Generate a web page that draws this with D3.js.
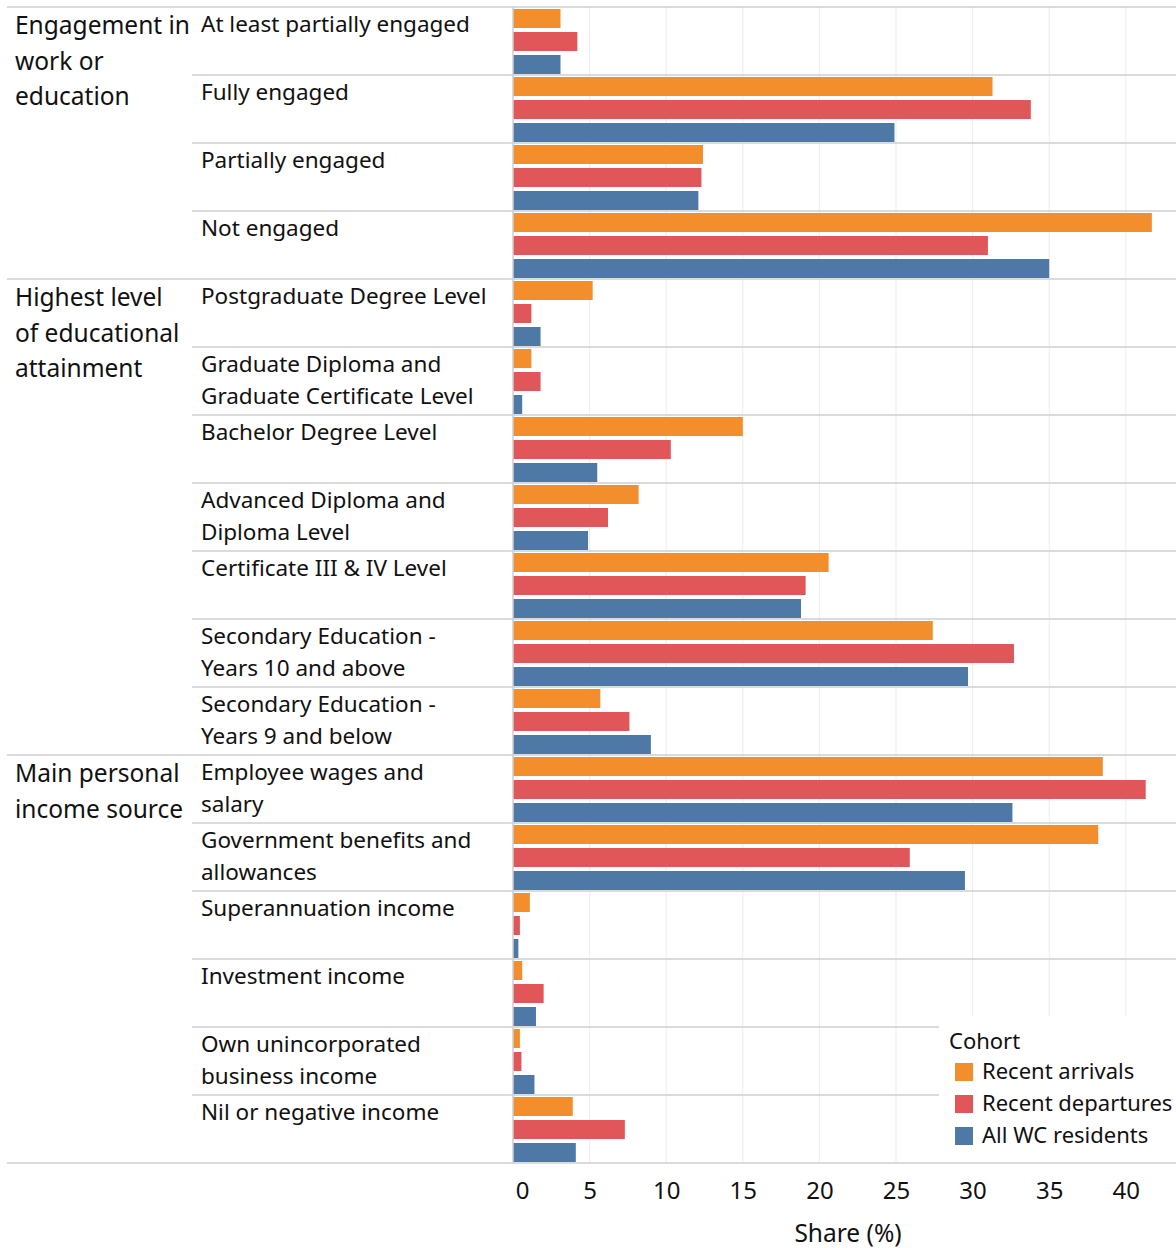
<!DOCTYPE html>
<html>
<head>
<meta charset="utf-8">
<script src="https://cdn.jsdelivr.net/npm/d3@7"></script>
<style>
  body { margin: 0; background: #fff; }
  svg { font-family: "Noto Sans", "Open Sans", sans-serif; }
</style>
</head>
<body>
<svg id="chart" width="1176" height="1248"></svg>
<script>
// Groups and the rows that belong to each
const groups = ["Engagement in work or education", "Highest level of educational attainment", "Main personal income source"];
const groupLines = [["Engagement in", "work or", "education"], ["Highest level", "of educational", "attainment"], ["Main personal", "income source"]];
const categories = [
    "At least partially engaged", "Fully engaged", "Partially engaged", "Not engaged",
    "Postgraduate Degree Level", "Graduate Diploma and Graduate Certificate Level", "Bachelor Degree Level",
    "Advanced Diploma and Diploma Level", "Certificate III & IV Level", "Secondary Education - Years 10 and above",
    "Secondary Education - Years 9 and below",
    "Employee wages and salary", "Government benefits and allowances", "Superannuation income",
    "Investment income", "Own unincorporated business income", "Nil or negative income"
];
const categoryGroup = [0, 0, 0, 0, 1, 1, 1, 1, 1, 1, 1, 2, 2, 2, 2, 2, 2];
const categoryLines = [
    ["At least partially engaged"], ["Fully engaged"], ["Partially engaged"], ["Not engaged"],
    ["Postgraduate Degree Level"], ["Graduate Diploma and", "Graduate Certificate Level"], ["Bachelor Degree Level"],
    ["Advanced Diploma and", "Diploma Level"], ["Certificate III & IV Level"], ["Secondary Education -", "Years 10 and above"],
    ["Secondary Education -", "Years 9 and below"],
    ["Employee wages and", "salary"], ["Government benefits and", "allowances"], ["Superannuation income"],
    ["Investment income"], ["Own unincorporated", "business income"], ["Nil or negative income"]
];
const cohorts = ["Recent arrivals", "Recent departures", "All WC residents"];
const recentArrivals   = [3.1, 31.3, 12.4, 41.7, 5.2, 1.2, 15.0, 8.2, 20.6, 27.4, 5.7, 38.5, 38.2, 1.1, 0.6, 0.45, 3.9];
const recentDepartures = [4.2, 33.8, 12.3, 31.0, 1.2, 1.8, 10.3, 6.2, 19.1, 32.7, 7.6, 41.3, 25.9, 0.45, 2.0, 0.55, 7.3];
const allResidents     = [3.1, 24.9, 12.1, 35.0, 1.8, 0.6, 5.5, 4.9, 18.8, 29.7, 9.0, 32.6, 29.5, 0.35, 1.5, 1.4, 4.1];
const ticks = [0, 5, 10, 15, 20, 25, 30, 35, 40];
const colors = ["#f28e2b", "#e15759", "#4e79a7"];

const series = [recentArrivals, recentDepartures, allResidents];
const svg = d3.select("#chart");
const W = 1176;

// Scales
const x = d3.scaleLinear().domain([0, 40]).range([513, 513 + 40 * 15.32]);
const y = d3.scaleBand().domain(categories).range([7, 1163]);
const yInner = d3.scaleBand().domain(cohorts).range([2, y.bandwidth() - 1]).paddingInner(0.174);
const color = d3.scaleOrdinal().domain(cohorts).range(colors);

// Gridlines
svg.append("g").selectAll("line").data(ticks.slice(1)).join("line")
    .attr("x1", d => x(d)).attr("x2", d => x(d))
    .attr("y1", 7).attr("y2", 1163)
    .attr("stroke", "#efefef").attr("stroke-width", 1.2);

// Bars
const rows = svg.append("g").selectAll("g").data(categories).join("g")
    .attr("transform", d => `translate(0,${y(d)})`);
rows.selectAll("rect").data((d, i) => cohorts.map((c, j) => ({ cohort: c, value: series[j][i] })))
    .join("rect")
    .attr("x", x(0))
    .attr("y", d => yInner(d.cohort))
    .attr("width", d => x(d.value) - x(0))
    .attr("height", yInner.bandwidth())
    .attr("fill", d => color(d.cohort));

// Row separators (inside group) and group separators (full width)
categories.forEach((c, i) => {
    const first = i === 0 || categoryGroup[i] !== categoryGroup[i - 1];
    svg.append("line")
        .attr("x1", first ? 7 : 192).attr("x2", W)
        .attr("y1", y(c)).attr("y2", y(c))
        .attr("stroke", "#cfcfcf").attr("stroke-width", 1.5);
});
svg.append("line").attr("x1", 7).attr("x2", W).attr("y1", 1163).attr("y2", 1163)
    .attr("stroke", "#cfcfcf").attr("stroke-width", 1.5);

// Baseline at zero
svg.append("line").attr("x1", x(0)).attr("x2", x(0)).attr("y1", 7).attr("y2", 1163)
    .attr("stroke", "#cfcfcf").attr("stroke-width", 1.5);

// Row labels
rows.append("text")
    .attr("x", 201).attr("y", 25)
    .attr("font-size", 22.5).attr("fill", "#111")
    .selectAll("tspan").data((d, i) => categoryLines[i]).join("tspan")
    .attr("x", 201).attr("dy", (d, k) => k === 0 ? 0 : 32)
    .text(d => d);

// Group labels
groups.forEach((g, gi) => {
    const firstCat = categories[categoryGroup.indexOf(gi)];
    svg.append("text")
        .attr("x", 15).attr("y", y(firstCat) + 27)
        .attr("font-size", 24.5).attr("fill", "#111")
        .selectAll("tspan").data(groupLines[gi]).join("tspan")
        .attr("x", 15).attr("dy", (d, k) => k === 0 ? 0 : 35.5)
        .text(d => d);
});

// Legend box covers gridlines
const lg = svg.append("g").attr("transform", "translate(939,1016)");
lg.append("rect").attr("width", W - 939).attr("height", 146).attr("fill", "#fff");
lg.append("text").attr("x", 10).attr("y", 33).attr("font-size", 22).attr("fill", "#111").text("Cohort");
const li = lg.selectAll("g.item").data(cohorts).join("g").attr("class", "item")
    .attr("transform", (d, i) => `translate(16,${47 + i * 32})`);
li.append("rect").attr("width", 18).attr("height", 18).attr("fill", d => color(d));
li.append("text").attr("x", 27).attr("y", 16).attr("font-size", 22).attr("fill", "#111").text(d => d);

// X axis
const xAxis = svg.append("g").attr("transform", "translate(0,1163)")
    .call(d3.axisBottom(x).tickValues(ticks).tickSize(0).tickPadding(19));
xAxis.select(".domain").remove();
xAxis.selectAll("text").attr("font-size", 24).attr("fill", "#111")
    .attr("font-family", "Noto Sans, sans-serif")
    .attr("dx", d => d === 0 ? 9 : 0);

svg.append("text")
    .attr("x", 848).attr("y", 1242)
    .attr("text-anchor", "middle").attr("font-size", 24.5).attr("fill", "#111")
    .text("Share (%)");
</script>
</body>
</html>
